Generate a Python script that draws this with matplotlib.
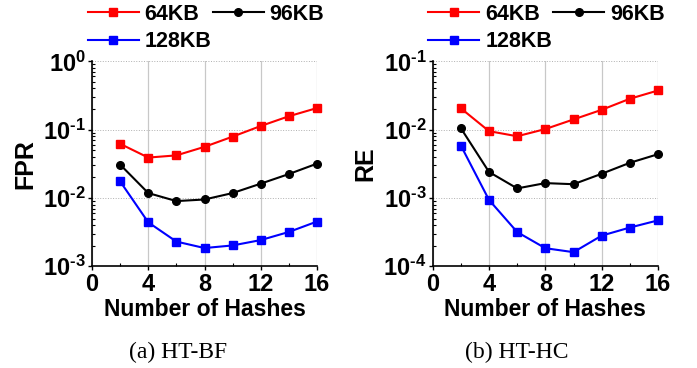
import matplotlib
matplotlib.use("Agg")
import matplotlib.pyplot as plt
from matplotlib.ticker import LogLocator, FixedLocator, NullFormatter, FuncFormatter
import numpy as np

plt.rcParams['font.family'] = ['Liberation Sans', 'DejaVu Sans']
plt.rcParams['font.weight'] = 'bold'
plt.rcParams['mathtext.fontset'] = 'custom'
plt.rcParams['mathtext.rm'] = 'Liberation Sans:bold'
plt.rcParams['mathtext.bf'] = 'Liberation Sans:bold'
plt.rcParams['mathtext.it'] = 'Liberation Sans:bold'

hashes = [2, 4, 6, 8, 10, 12, 14, 16]
series_labels = ['64KB', '96KB', '128KB']

bf_64 = [0.062, 0.039, 0.042, 0.056, 0.079, 0.113, 0.157, 0.207]
bf_96 = [0.0308, 0.0118, 0.0090, 0.0095, 0.0118, 0.0162, 0.0224, 0.0318]
bf_128 = [0.0175, 0.0044, 0.0023, 0.00185, 0.00202, 0.00242, 0.00318, 0.00452]

hc_64 = [0.0205, 0.0095, 0.0080, 0.0102, 0.0141, 0.0195, 0.0283, 0.0374]
hc_96 = [0.0105, 0.0024, 0.00138, 0.00165, 0.00159, 0.00226, 0.00327, 0.00437]
hc_128 = [0.00585, 0.000935, 0.000317, 0.000184, 0.000161, 0.000281, 0.000369, 0.00047]

x_ticks = [0, 4, 8, 12, 16]

fig = plt.figure(figsize=(6.97, 3.68), dpi=100)

W, H = 697, 368
def add_ax(l, r, t, b):
    return fig.add_axes([l / W, 1 - b / H, (r - l) / W, (b - t) / H])

ax1 = add_ax(92, 317, 61.3, 266.3)
ax2 = add_ax(432.7, 658, 61.3, 266.3)

colors = ['#ff0000', '#000000', '#0000ff']
markers = ['s', 'o', 's']

def fmt(v, p):
    e = int(round(np.log10(v)))
    if e < 0:
        return r'$\mathbf{10^{\text{-}%d}}$' % (-e)
    return r'$\mathbf{10^{%d}}$' % e

def draw(ax, data, ylim, ylabel, caption, cap_x):
    handles = []
    for vals, c, m, lab in zip(data, colors, markers, series_labels):
        h, = ax.plot(hashes, vals, color=c, marker=m, markersize=6 if m == 's' else 5.5,
                     lw=1.5, label=lab, clip_on=False, zorder=3)
        handles.append(h)
    ax.set_yscale('log')
    ax.set_ylim(*ylim)
    ax.set_xlim(0, 16)
    ax.xaxis.set_major_locator(FixedLocator(x_ticks))
    ax.xaxis.set_minor_locator(FixedLocator([2, 6, 10, 14]))
    ax.yaxis.set_major_locator(LogLocator(base=10, numticks=10))
    ax.yaxis.set_minor_locator(LogLocator(base=10, subs=np.arange(2, 10), numticks=10))
    ax.yaxis.set_minor_formatter(NullFormatter())
    ax.yaxis.set_major_formatter(FuncFormatter(fmt))
    for s in ['top', 'right']:
        ax.spines[s].set_visible(False)
    for s in ['left', 'bottom']:
        ax.spines[s].set_linewidth(1.2)
    ax.grid(True, axis='x', which='major', color='#c8c8c8', lw=0.9, ls='-')
    ax.grid(True, axis='y', which='major', color='#b0b0b0', lw=0.7, ls=':')
    ax.set_axisbelow(True)
    ax.tick_params(axis='both', which='major', labelsize=17, length=3, width=1, direction='out', pad=1.5)
    ax.tick_params(axis='y', which='minor', length=2, width=0.8, direction='in')
    ax.tick_params(axis='x', which='minor', length=2, width=0.8, direction='in')
    for t in ax.get_xticklabels():
        t.set_fontweight('bold')
    ax.set_xlabel('Number of Hashes', fontsize=16.5, fontweight='bold', labelpad=2)
    ax.set_ylabel(ylabel, fontsize=18, fontweight='bold', labelpad=4)
    fig.text(cap_x / W, 1 - 352 / H, caption, ha='center', va='center',
             fontsize=17, fontweight='normal', family='Liberation Serif')
    order = [0, 2, 1]
    ax.legend([handles[i] for i in order], [series_labels[i] for i in order],
              ncol=2, loc='upper left', bbox_to_anchor=(-0.02, 1.28),
              frameon=False, handlelength=2.37, handletextpad=0.28,
              columnspacing=0.05, labelspacing=0.3, borderpad=0, borderaxespad=0,
              prop={'weight': 'bold', 'size': 15.5})

draw(ax1, [bf_64, bf_96, bf_128], (1e-3, 1e0), 'FPR', '(a) HT-BF', 178)
draw(ax2, [hc_64, hc_96, hc_128], (1e-4, 1e-1), 'RE', '(b) HT-HC', 517)

fig.savefig('out.png', dpi=100)
